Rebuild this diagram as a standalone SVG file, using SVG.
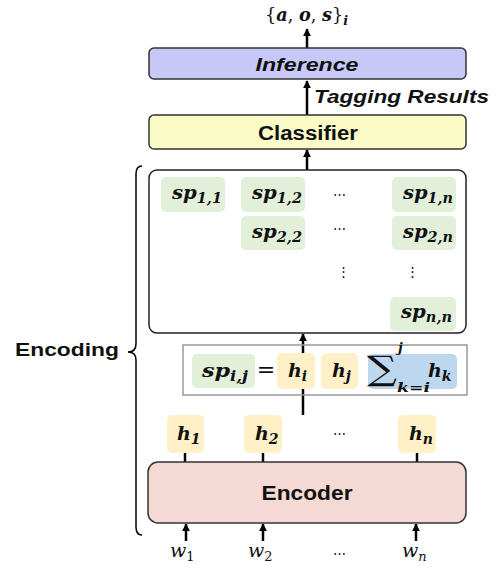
<svg xmlns="http://www.w3.org/2000/svg" width="500" height="570" viewBox="0 0 500 570">
<defs>
<marker id="ah" viewBox="0 0 10 10" refX="9" refY="5" markerWidth="3.2" markerHeight="3.2" orient="auto"><path d="M0,0 L10,5 L0,10 z" fill="#000"/></marker>
<style>
.box{stroke:#333;stroke-width:1.5}
.lbl{font-family:"Liberation Sans",Arial,sans-serif;font-weight:bold;fill:#111}
.m{font-family:"DejaVu Serif","Liberation Serif",serif;font-weight:bold;font-style:italic;fill:#111}
.mr{font-family:"DejaVu Serif","Liberation Serif",serif;fill:#111}
.g{fill:#e2efd9}
.y{fill:#fff0c8}
.b{fill:#bdd7ee}
.c{stroke:#000;stroke-width:2.5;fill:none;marker-end:url(#ah)}
</style>
</defs>

<g id="connectors">
<line class="c" x1="307" y1="48" x2="307" y2="29"/>
<line class="c" x1="307" y1="115" x2="307" y2="81"/>
<line class="c" x1="307" y1="170" x2="307" y2="150"/>
<line class="c" x1="303" y1="415" x2="303" y2="334"/>
<line class="c" x1="185" y1="462" x2="185" y2="442"/>
<line class="c" x1="263" y1="462" x2="263" y2="442"/>
<line class="c" x1="417" y1="462" x2="417" y2="442"/>
<line class="c" x1="186" y1="541" x2="186" y2="524"/>
<line class="c" x1="263" y1="541" x2="263" y2="524"/>
<line class="c" x1="416" y1="541" x2="416" y2="524"/>
</g>

<g id="output">
<text class="mr" x="265" y="21" font-size="18" textLength="83" lengthAdjust="spacingAndGlyphs">{<tspan class="m">a</tspan>, <tspan class="m">o</tspan>, <tspan class="m">s</tspan>}<tspan class="m" font-size="13" dy="4">i</tspan></text>
</g>

<g id="inference">
<rect class="box" x="149" y="48" width="317" height="31" rx="5" fill="#c8c8f6"/>
<text class="lbl" x="307" y="71" font-size="19" font-style="italic" text-anchor="middle" textLength="103" lengthAdjust="spacingAndGlyphs">Inference</text>
</g>

<g id="tagging-label">
<text class="lbl" x="314" y="103" font-size="19" font-style="italic" textLength="175" lengthAdjust="spacingAndGlyphs">Tagging Results</text>
</g>

<g id="classifier">
<rect class="box" x="149" y="115" width="317" height="34" rx="5" fill="#fbfbc8"/>
<text class="lbl" x="308" y="140" font-size="20" text-anchor="middle" textLength="100" lengthAdjust="spacingAndGlyphs">Classifier</text>
</g>

<g id="span-matrix">
<rect x="149" y="170" width="317" height="163" rx="8" fill="#fff" stroke="#222" stroke-width="1.5"/>
<rect class="g" x="161" y="177" width="64" height="35" rx="5"/>
<rect class="g" x="241" y="177" width="64" height="35" rx="5"/>
<rect class="g" x="392" y="177" width="64" height="35" rx="5"/>
<rect class="g" x="241" y="216" width="64" height="34" rx="5"/>
<rect class="g" x="392" y="216" width="64" height="34" rx="5"/>
<rect class="g" x="390" y="297" width="66" height="34" rx="5"/>
<text class="m" x="172" y="199" font-size="19" textLength="50" lengthAdjust="spacingAndGlyphs">sp<tspan font-size="14" dy="4">1,1</tspan></text>
<text class="m" x="252" y="199" font-size="19" textLength="50" lengthAdjust="spacingAndGlyphs">sp<tspan font-size="14" dy="4">1,2</tspan></text>
<text class="m" x="403" y="199" font-size="19" textLength="50" lengthAdjust="spacingAndGlyphs">sp<tspan font-size="14" dy="4">1,n</tspan></text>
<text class="m" x="252" y="238" font-size="19" textLength="50" lengthAdjust="spacingAndGlyphs">sp<tspan font-size="14" dy="4">2,2</tspan></text>
<text class="m" x="403" y="238" font-size="19" textLength="50" lengthAdjust="spacingAndGlyphs">sp<tspan font-size="14" dy="4">2,n</tspan></text>
<text class="m" x="401" y="318" font-size="19" textLength="51" lengthAdjust="spacingAndGlyphs">sp<tspan font-size="14" dy="4">n,n</tspan></text>
<text class="mr" x="339" y="199" font-size="13" text-anchor="middle">⋯</text>
<text class="mr" x="339" y="233" font-size="13" text-anchor="middle">⋯</text>
<text class="mr" x="343" y="276" font-size="13" text-anchor="middle">⋮</text>
<text class="mr" x="412" y="276" font-size="13" text-anchor="middle">⋮</text>
</g>

<g id="span-formula">
<rect x="183" y="345" width="284" height="50" fill="none" stroke="#999" stroke-width="1.5"/>
<rect class="g" x="192" y="354" width="63" height="34" rx="5"/>
<rect class="y" x="277" y="353" width="38" height="36" rx="5"/>
<rect class="y" x="321" y="353" width="37" height="36" rx="5"/>
<rect class="b" x="368" y="354" width="89" height="35" rx="5"/>
<text class="m" x="202" y="377" font-size="19" textLength="46" lengthAdjust="spacingAndGlyphs">sp<tspan font-size="14" dy="4">i,j</tspan></text>
<text class="mr" x="266" y="377" font-size="22" text-anchor="middle">=</text>
<text class="m" x="288" y="377" font-size="19">h<tspan font-size="14" dy="4">i</tspan></text>
<text class="m" x="332" y="377" font-size="19">h<tspan font-size="14" dy="4">j</tspan></text>
<text class="mr" x="367" y="380" font-size="34" textLength="30" lengthAdjust="spacingAndGlyphs">∑</text>
<text class="m" x="398" y="352" font-size="13">j</text>
<text class="m" x="397" y="392" font-size="13" textLength="33" lengthAdjust="spacingAndGlyphs">k=i</text>
<text class="m" x="428" y="377" font-size="19">h<tspan font-size="14" dy="4">k</tspan></text>
</g>

<g id="hidden-states">
<rect class="y" x="167" y="415" width="37" height="38" rx="5"/>
<rect class="y" x="244" y="415" width="38" height="38" rx="5"/>
<rect class="y" x="398" y="415" width="38" height="38" rx="5"/>
<text class="m" x="177" y="440" font-size="19">h<tspan font-size="14" dy="4">1</tspan></text>
<text class="m" x="255" y="440" font-size="19">h<tspan font-size="14" dy="4">2</tspan></text>
<text class="m" x="409" y="440" font-size="19">h<tspan font-size="14" dy="4">n</tspan></text>
<text class="mr" x="339" y="438" font-size="13" text-anchor="middle">⋯</text>
</g>

<g id="encoder">
<rect class="box" x="148" y="462" width="318" height="61" rx="10" fill="#f4d9d4"/>
<text class="lbl" x="307" y="500" font-size="20" text-anchor="middle" textLength="91" lengthAdjust="spacingAndGlyphs">Encoder</text>
</g>

<g id="inputs">
<text class="mr" font-style="italic" x="170" y="557" font-size="19">w<tspan font-style="normal" font-size="13" dy="4">1</tspan></text>
<text class="mr" font-style="italic" x="248" y="557" font-size="19">w<tspan font-style="normal" font-size="13" dy="4">2</tspan></text>
<text class="mr" x="339" y="558" font-size="13" text-anchor="middle">⋯</text>
<text class="mr" font-style="italic" x="402" y="557" font-size="19">w<tspan font-size="13" dy="4">n</tspan></text>
</g>

<g id="encoding-brace">
<path d="M142,166 Q136,166 136,174 L136,344 Q136,352 128,352 Q136,352 136,360 L136,527 Q136,535 142,535" fill="none" stroke="#000" stroke-width="1.5"/>
<text class="lbl" x="15" y="356" font-size="19" textLength="104" lengthAdjust="spacingAndGlyphs">Encoding</text>
</g>
</svg>
